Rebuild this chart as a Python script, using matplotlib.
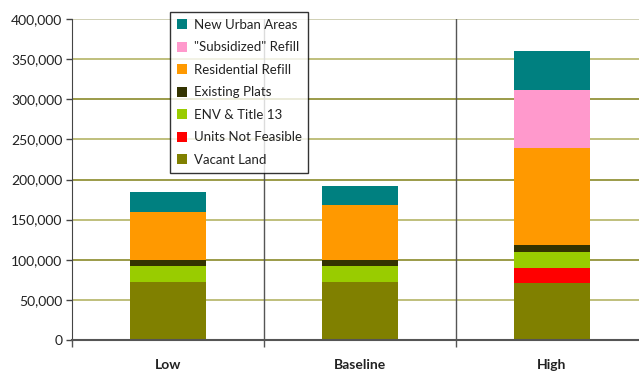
import matplotlib
matplotlib.use("Agg")
import matplotlib.pyplot as plt
from matplotlib.patches import Patch
import numpy as np

categories = ["Low", "Baseline", "High"]
series_names = ["Vacant Land", "Units Not Feasible", "ENV & Title 13", "Existing Plats",
                "Residential Refill", "\"Subsidized\" Refill", "New Urban Areas"]
vacant_land = [72500, 72500, 71000]
units_not_feasible = [0, 0, 19000]
env_title13 = [20000, 20000, 20000]
existing_plats = [7500, 7500, 9000]
residential_refill = [60000, 68500, 120000]
subsidized_refill = [0, 0, 72500]
new_urban_areas = [25000, 24000, 48500]
series_colors = ["#808000", "#FF0000", "#99CC00", "#333300", "#FF9900", "#FF99CC", "#008080"]
y_ticks = [0, 50000, 100000, 150000, 200000, 250000, 300000, 350000, 400000]

values = [vacant_land, units_not_feasible, env_title13, existing_plats,
          residential_refill, subsidized_refill, new_urban_areas]

plt.rcParams['font.family'] = ['Lato', 'DejaVu Sans']

fig = plt.figure(figsize=(6.39, 3.71), dpi=100)
ax = fig.add_axes([72/639, 1-340/371, 576/639, 321/371])

x = np.arange(len(categories))
bottom = np.zeros(len(categories))
for name, vals, col in zip(series_names, values, series_colors):
    ax.bar(x, vals, width=0.4, bottom=bottom, color=col, zorder=3, linewidth=0)
    bottom += np.array(vals)

# gridlines
for v in y_ticks[1:]:
    if v % 100000 == 0:
        c = "#8a8a2a" if v < 400000 else "#c8c8a8"
    else:
        c = "#b4b466"
    ax.axhline(v, color=c, lw=1.2, zorder=1)

for xv in [0.5, 1.5]:
    ax.axvline(xv, color="#555555", lw=1, zorder=2)

ax.set_xlim(-0.5, 2.5)
ax.set_ylim(0, 400000)
ax.set_yticks(y_ticks)
ax.set_yticklabels([f"{v:,}" for v in y_ticks], fontsize=10, color="#222222")
ax.tick_params(axis='y', length=4, width=1, color="#444444", direction='out', pad=3)

ax.set_xticks([-0.5, 0.5, 1.5, 2.5])
ax.set_xticklabels([])
ax.tick_params(axis='x', which='major', length=5, width=1, color="#555555", direction='out')
ax.set_xticks(x, minor=True)
ax.set_xticklabels(categories, minor=True, fontsize=10, fontweight='bold', color="#222222")
ax.tick_params(axis='x', which='minor', length=0, pad=14)

for s in ["top", "right"]:
    ax.spines[s].set_visible(False)
ax.spines["left"].set_color("#444444")
ax.spines["bottom"].set_color("#555555")
ax.spines["bottom"].set_linewidth(1.5)
ax.spines["left"].set_zorder(4)
ax.spines["bottom"].set_zorder(4)

handles = [Patch(facecolor=c, edgecolor='none', label=n)
           for n, c in zip(series_names, series_colors)][::-1]
leg = fig.legend(handles=handles, loc='upper left',
                 bbox_to_anchor=(170/639, 1-12/371), bbox_transform=fig.transFigure,
                 fontsize=9.5, frameon=True, fancybox=False, edgecolor='black',
                 handlelength=0.8, handleheight=0.8, handletextpad=0.5,
                 labelspacing=0.8, borderpad=0.5, borderaxespad=0)
leg.get_frame().set_linewidth(1)
for t in leg.get_texts():
    t.set_color("#222222")

fig.savefig("out.png", dpi=100)
